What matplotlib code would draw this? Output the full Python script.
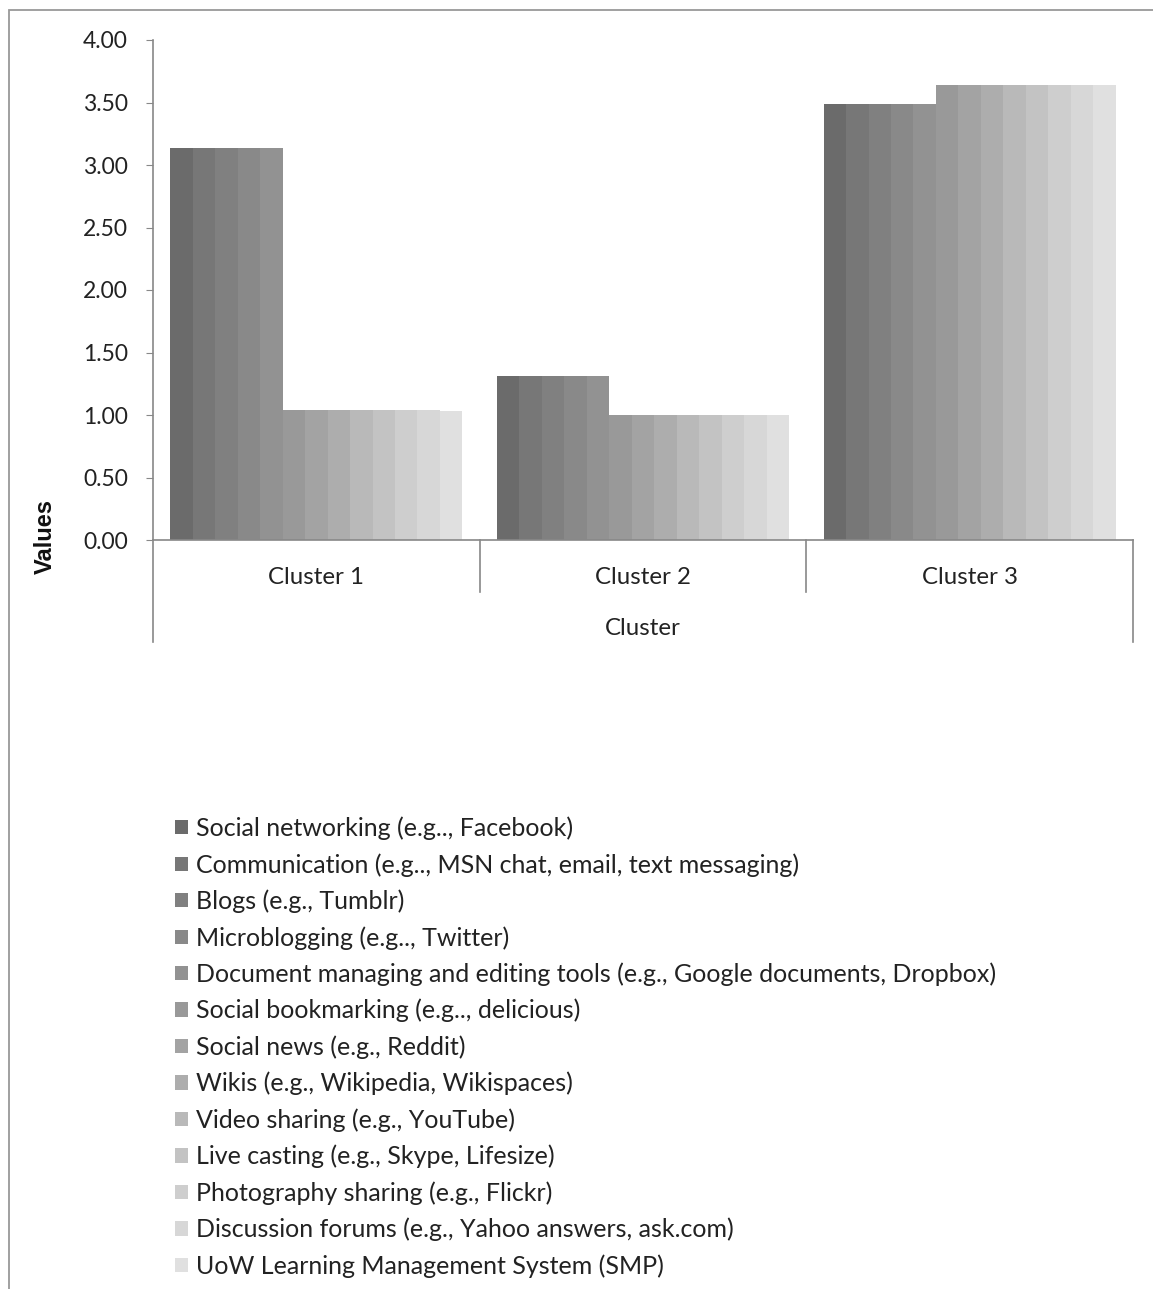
import matplotlib
matplotlib.use("Agg")
import matplotlib.pyplot as plt
from matplotlib.patches import Patch, Rectangle
import numpy as np

clusters = ['Cluster 1', 'Cluster 2', 'Cluster 3']
series = [
    'Social networking (e.g.., Facebook)',
    'Communication (e.g.., MSN chat, email, text messaging)',
    'Blogs (e.g., Tumblr)',
    'Microblogging (e.g.., Twitter)',
    'Document managing and editing tools (e.g., Google documents, Dropbox)',
    'Social bookmarking (e.g.., delicious)',
    'Social news (e.g., Reddit)',
    'Wikis (e.g., Wikipedia, Wikispaces)',
    'Video sharing (e.g., YouTube)',
    'Live casting (e.g., Skype, Lifesize)',
    'Photography sharing (e.g., Flickr)',
    'Discussion forums (e.g., Yahoo answers, ask.com)',
    'UoW Learning Management System (SMP)',
]
# values per series: [cluster 1, cluster 2, cluster 3]
values = [
    [3.14, 1.31, 3.49],
    [3.14, 1.31, 3.49],
    [3.14, 1.31, 3.49],
    [3.14, 1.31, 3.49],
    [3.14, 1.31, 3.49],
    [1.04, 1.00, 3.64],
    [1.04, 1.00, 3.64],
    [1.04, 1.00, 3.64],
    [1.04, 1.00, 3.64],
    [1.04, 1.00, 3.64],
    [1.04, 1.00, 3.64],
    [1.04, 1.00, 3.64],
    [1.03, 1.00, 3.64],
]
colors = ['#6b6b6b', '#777777', '#808080', '#898989', '#929292', '#999999',
          '#a3a3a3', '#adadad', '#b9b9b9', '#c3c3c3', '#cecece', '#d7d7d7',
          '#e0e0e0']
yticks = [0, 0.5, 1.0, 1.5, 2.0, 2.5, 3.0, 3.5, 4.0]

plt.rcParams['font.family'] = ['Lato', 'DejaVu Sans']
W, H = 1153, 1289
fig = plt.figure(figsize=(W / 100, H / 100), dpi=100)
ax = fig.add_axes([153 / W, 1 - 540 / H, 980 / W, 500 / H])

# outer chart frame
fig.add_artist(Rectangle((9 / W, -0.1), 1.2, 1 - 10 / H + 0.1, transform=fig.transFigure,
                         fill=False, edgecolor='#999999', lw=1.3))

x = np.arange(len(clusters))
n = len(series)
w = 0.0688
for i in range(n):
    ax.bar(x + (i - (n - 1) / 2) * w, values[i], width=w, color=colors[i],
           edgecolor='none', label=series[i])

ax.set_xlim(-0.5, 2.5)
ax.set_ylim(0, 4)
ax.set_yticks(yticks)
ax.set_yticklabels([f'{t:.2f}' for t in yticks], fontsize=16.5, color='#222222')
ax.tick_params(axis='y', direction='out', length=5, color='#888888', pad=13)
ax.set_xticks([])
for s in ['top', 'right']:
    ax.spines[s].set_visible(False)
for s in ['left', 'bottom']:
    ax.spines[s].set_color('#888888')
    ax.spines[s].set_linewidth(1.2)

tr = ax.get_xaxis_transform()
for xi, name in zip(x, clusters):
    ax.text(xi, -0.074, name, transform=tr, ha='center', va='center',
            fontsize=17.3, color='#222222')
ax.text(1, -0.176, 'Cluster', transform=tr, ha='center', va='center',
        fontsize=17.3, color='#222222')
for xb, y0 in [(-0.5, -0.204), (0.5, -0.104), (1.5, -0.104), (2.5, -0.204)]:
    ax.plot([xb, xb], [0, y0], transform=tr, color='#888888', lw=1.2, clip_on=False)

fig.text(45 / W, 1 - 537 / H, 'Values', rotation=90, ha='center', va='center',
         fontsize=17, fontweight='bold', family='Liberation Sans', color='#111111')

handles = [Patch(facecolor=c, edgecolor='none') for c in colors]
fig.legend(handles, series, loc='upper left', bbox_to_anchor=(175 / W, 1 - 816.5 / H),
           frameon=False, fontsize=18, handlelength=0.5, handleheight=0.5,
           handletextpad=0.36, labelspacing=0.515, borderpad=0, borderaxespad=0,
           labelcolor='#222222')

fig.savefig('out.png', dpi=100)
